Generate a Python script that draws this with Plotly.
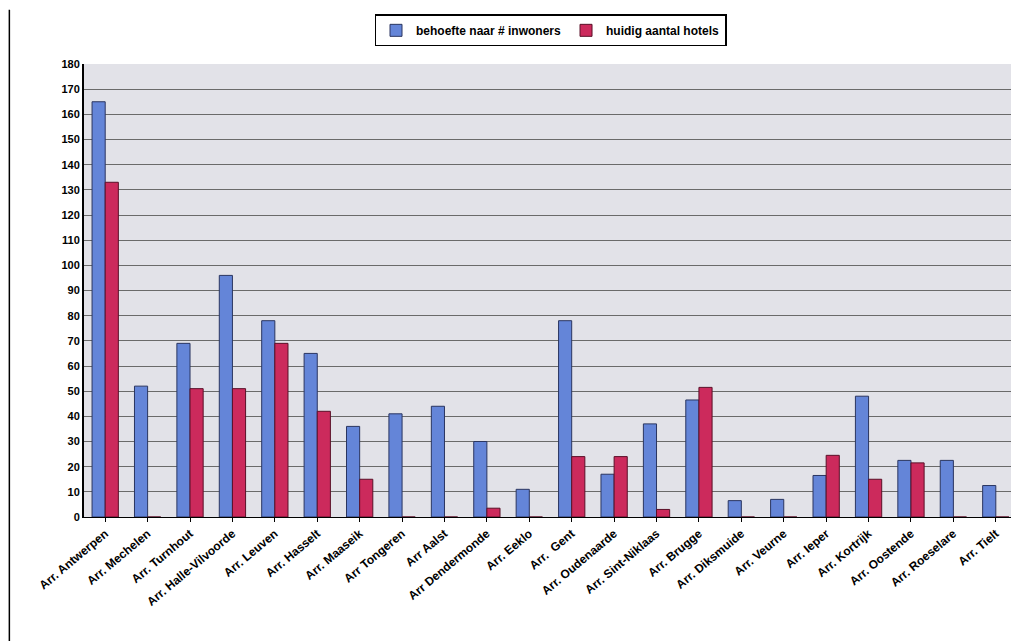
import plotly.graph_objects as go

categories = ["Arr. Antwerpen", "Arr. Mechelen", "Arr. Turnhout", "Arr. Halle-Vilvoorde",
              "Arr. Leuven", "Arr. Hasselt", "Arr. Maaseik", "Arr Tongeren", "Arr Aalst",
              "Arr Dendermonde", "Arr. Eeklo", "Arr.  Gent", "Arr. Oudenaarde",
              "Arr. Sint-Niklaas", "Arr. Brugge", "Arr. Diksmuide", "Arr. Veurne",
              "Arr. Ieper", "Arr. Kortrijk", "Arr. Oostende", "Arr. Roeselare", "Arr. Tielt"]
behoefte = [165, 52, 69, 96, 78, 65, 36, 41, 44, 30, 11, 78, 17, 37, 46.5, 6.5, 7,
            16.5, 48, 22.5, 22.5, 12.5]
hotels = [133, 0, 51, 51, 69, 42, 15, 0, 0, 3.5, 0, 24, 24, 3, 51.5, 0, 0,
          24.5, 15, 21.5, 0, 0]
y_ticks = list(range(0, 190, 10))

fig = go.Figure()
fig.add_bar(x=categories, y=behoefte, name="behoefte naar # inwoners",
            marker=dict(color="#6485d8", line=dict(color="#2a3560", width=1)))
fig.add_bar(x=categories, y=hotels, name="huidig aantal hotels",
            marker=dict(color="#cc2a5c", line=dict(color="#5a1028", width=1)))

fig.update_layout(
    width=1011, height=633,
    margin=dict(l=76, r=2, t=56, b=124, autoexpand=False),
    paper_bgcolor="white", plot_bgcolor="#e2e2e8",
    barmode="group", bargap=0.38, bargroupgap=0.0,
    font=dict(family="Liberation Sans, Arial", size=11, color="black", weight="bold"),
    legend=dict(orientation="h", x=0.5, xanchor="center", y=0.99, yanchor="top",
                yref="container", bordercolor="black", borderwidth=1.5,
                bgcolor="white", font=dict(size=12), traceorder="normal",
                itemwidth=30, tracegroupgap=0),
    showlegend=True,
)
fig.update_xaxes(tickangle=-40, showline=True, linecolor="black", linewidth=1,
                 ticks="outside", ticklen=4, tickcolor="black", showgrid=False,
                 tickfont=dict(size=12))
fig.update_yaxes(range=[0, 180], tickvals=y_ticks, showline=True, linecolor="black",
                 linewidth=2, gridcolor="#6a6a6a", gridwidth=1, ticks="",
                 tickfont=dict(size=11), zeroline=False)
fig.add_shape(type="line", xref="paper", yref="paper", x0=-0.08, x1=-0.08, y0=-0.28,
              y1=1.12, line=dict(color="black", width=1.5))
fig.write_html("out.html")
